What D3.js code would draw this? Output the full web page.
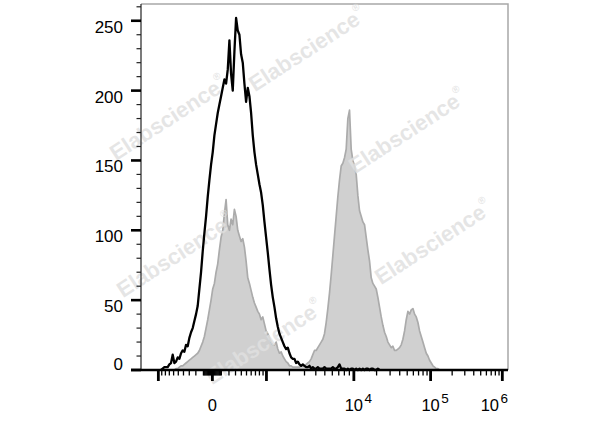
<!DOCTYPE html>
<html>
<head>
<meta charset="utf-8">
<script src="https://cdn.jsdelivr.net/npm/d3@7/dist/d3.min.js"></script>
<style>
  html, body { margin: 0; padding: 0; background: #fff; }
  svg { display: block; }
  text { font-family: "Liberation Sans", Arial, sans-serif; }
</style>
</head>
<body>
<svg id="chart" width="600" height="427"></svg>
<script>
// ---------------- data ----------------
// histogram channels (display channels, 0..220 across the plot width)
const blackStartChannel = 12;
const blackCounts = [0,1,2,2,2,4,5,11,5,6,9,8,12,14,13,18,17,23,27,30,35,40,46,58,70,85,98,110,124,136,147,156,168,176,184,190,196,202,208,205,215,236,212,200,228,252,243,240,226,220,205,192,202,196,184,168,156,147,140,133,127,118,106,95,84,72,61,52,45,37,31,26,23,20,17,15,16,12,9,8,8,5,6,4,3,4,3,2,2,3,1,2,1,1,2,1,1,1,2,1,1,1,1,2,1,1,2,4,1,1,1,0,1,0,1,1,0,1,0,1,0,1,0,1,1,0,1,1,0,0,1,0];

const grayStartChannel = 20;
const grayCounts = [0,1,1,2,3,3,4,5,6,7,8,9,10,11,12,14,17,20,24,30,36,43,50,58,62,70,76,86,95,100,112,122,104,100,108,104,115,110,100,96,92,94,88,78,66,62,57,52,48,45,42,40,36,38,33,28,26,23,20,18,18,20,15,12,13,10,8,6,5,3,3,2,2,2,2,2,3,3,3,4,5,6,8,11,14,14,16,18,20,22,26,34,44,55,68,82,96,110,124,136,146,148,152,158,180,186,158,150,146,140,125,114,110,106,104,95,86,78,66,62,60,58,52,45,38,32,27,24,20,18,16,17,14,14,15,16,18,22,28,36,42,40,43,44,40,38,34,28,24,20,16,12,10,7,5,3,2,1,1,0];

// axis
const xMajorValues = [-1000, 0, 1000, 10000, 100000, 1000000];
const xMajorChannels = [10.4, 42.8, 75.2, 127.6, 173.6, 216.6];
const xLabelValues = [0, 10000, 100000, 1000000];
const xLabelBase = ["0", "10", "10", "10"];
const xLabelExp = ["", "4", "5", "6"];
const xMinorValues = [
  -900,-800,-700,-600,-500,-400,-300,-200,-100,
  -90,-80,-70,-60,-50,-40,-30,-20,-10,
  10,20,30,40,50,60,70,80,90,
  100,200,300,400,500,600,700,800,900,
  2000,3000,4000,5000,6000,7000,8000,9000,
  20000,30000,40000,50000,60000,70000,80000,90000,
  200000,300000,400000,500000,600000,700000,800000,900000
];
const yMajorTicks = [0, 50, 100, 150, 200, 250];
const yMinorTicks = [10,20,30,40,60,70,80,90,110,120,130,140,160,170,180,190,210,220,230,240,260];
const watermarkText = "Elabscience";

// ---------------- layout ----------------
const svg = d3.select("#chart");
const pL = 141, pR = 508, pT = 4, pB = 370;

const x = d3.scaleLinear().domain([0, 220]).range([pL, pR]);
const y = d3.scaleLinear().domain([0, 262]).range([pB, pT]);
// fluorescence value -> pixel (biexponential-like display)
const fx = d3.scaleSymlog().constant(500)
  .domain(xMajorValues)
  .range(xMajorChannels.map(c => x(c)));

svg.append("rect").attr("width", 600).attr("height", 427).attr("fill", "#fff");

// frame (top / right)
svg.append("path")
  .attr("d", `M${pL},${pT}H${pR}V${pB}`)
  .attr("fill", "none").attr("stroke", "#a8a8a8").attr("stroke-width", 1.5);

// gray filled histogram
const grayData = grayCounts.map((c, i) => ({ ch: grayStartChannel + i, c }));
svg.append("path")
  .datum(grayData)
  .attr("d", d3.area().x(d => x(d.ch)).y0(y(0)).y1(d => y(d.c)))
  .attr("fill", "#d0d0d0");
svg.append("path")
  .datum(grayData)
  .attr("d", d3.line().x(d => x(d.ch)).y(d => y(d.c)))
  .attr("fill", "none").attr("stroke", "#ababab").attr("stroke-width", 1.7)
  .attr("stroke-linejoin", "round");

// watermarks
const wm = [[307, 49], [168, 118], [407, 131], [175, 255], [433, 242], [264, 342]];
wm.forEach(([cx, cy]) => {
  const t = svg.append("text")
    .attr("transform", `translate(${cx},${cy}) rotate(-33)`)
    .attr("text-anchor", "middle")
    .attr("dominant-baseline", "central")
    .attr("font-size", 22).attr("font-weight", "bold")
    .attr("fill", "#e0e0e0").attr("fill-opacity", 0.82);
  t.append("tspan").text(watermarkText);
  t.append("tspan").attr("font-size", 10).attr("dy", -9).text("®");
});

// black histogram line
const blackData = blackCounts.map((c, i) => ({ ch: blackStartChannel + i, c }));
svg.append("path")
  .datum(blackData)
  .attr("d", d3.line().x(d => x(d.ch)).y(d => y(d.c)))
  .attr("fill", "none").attr("stroke", "#000").attr("stroke-width", 2.3)
  .attr("stroke-linejoin", "round");

// y axis
const yAxisG = svg.append("g");
yAxisG.append("line").attr("x1", pL).attr("x2", pL).attr("y1", pT).attr("y2", pB)
  .attr("stroke", "#333").attr("stroke-width", 1.3);
yAxisG.selectAll(".ymin").data(yMinorTicks).join("line")
  .attr("x1", pL - 4.5).attr("x2", pL).attr("y1", d => y(d)).attr("y2", d => y(d))
  .attr("stroke", "#222").attr("stroke-width", 1.2);
yAxisG.selectAll(".ymaj").data(yMajorTicks).join("line")
  .attr("x1", pL - 10).attr("x2", pL).attr("y1", d => y(d)).attr("y2", d => y(d))
  .attr("stroke", "#000").attr("stroke-width", 2.6);
yAxisG.selectAll(".ylab").data(yMajorTicks).join("text")
  .attr("x", 123).attr("y", d => y(d) + (d === 0 ? -6 : 6) + 6)
  .attr("text-anchor", "end").attr("font-size", 17).attr("fill", "#000")
  .text(d => d);

// x axis
const xAxisG = svg.append("g");
xAxisG.append("line").attr("x1", 131).attr("x2", pR).attr("y1", pB).attr("y2", pB)
  .attr("stroke", "#000").attr("stroke-width", 2.4);
xAxisG.selectAll(".xmin").data(xMinorValues).join("line")
  .attr("x1", d => fx(d)).attr("x2", d => fx(d)).attr("y1", pB).attr("y2", pB + 5.5)
  .attr("stroke", "#000").attr("stroke-width", 1.3);
xAxisG.selectAll(".xmaj").data(xMajorValues).join("line")
  .attr("x1", d => fx(d)).attr("x2", d => fx(d)).attr("y1", pB).attr("y2", pB + 11)
  .attr("stroke", "#000").attr("stroke-width", 2.8);

xLabelValues.forEach((v, i) => {
  const t = svg.append("text")
    .attr("y", 410.5).attr("font-size", 16.5).attr("fill", "#000");
  const b = t.append("tspan").text(xLabelBase[i]);
  if (xLabelExp[i]) {
    t.append("tspan").attr("font-size", 13.5).attr("dx", 1.5).attr("dy", -8).text(xLabelExp[i]);
  }
  const baseW = b.node().getComputedTextLength();
  const totalW = t.node().getComputedTextLength() + (xLabelExp[i] ? 1.5 : 0);
  let x0 = fx(v) - baseW / 2;
  if (x0 + totalW > pR) x0 = pR - totalW;
  t.attr("x", x0);
});
</script>
</body>
</html>
